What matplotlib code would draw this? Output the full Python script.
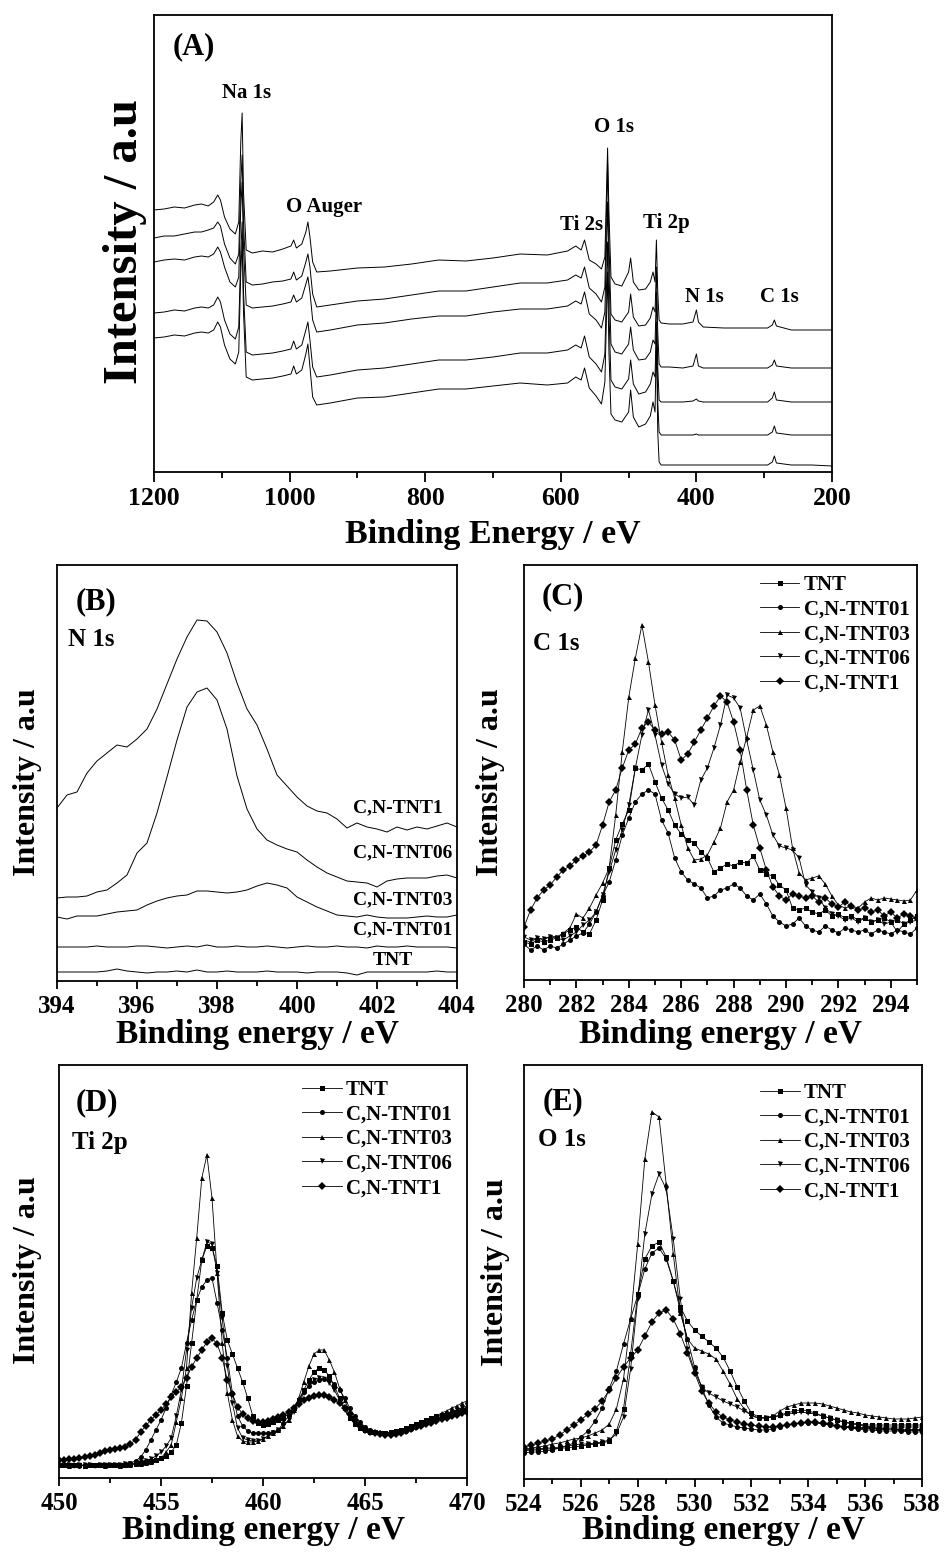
import matplotlib
matplotlib.use("Agg")
import matplotlib.pyplot as plt
from matplotlib.ticker import MultipleLocator

plt.rcParams['font.family'] = ['Liberation Serif', 'DejaVu Serif']
plt.rcParams['font.weight'] = 'bold'

W, H = 947, 1553

samples = ['TNT', 'C,N-TNT01', 'C,N-TNT03', 'C,N-TNT06', 'C,N-TNT1']
markers = ['s', 'o', '^', 'v', 'D']

# ---------------- (A) survey spectra, 5 stacked traces ----------------
survey_be = [1200, 1185, 1170, 1155, 1140, 1130, 1120, 1112, 1106, 1102,
             1096, 1088, 1080, 1075, 1072, 1070, 1068, 1064, 1055, 1040,
             1025, 1010, 998, 994, 990, 982, 976, 973, 970, 966,
             960, 940, 900, 860, 820, 780, 740, 700, 660, 620,
             590, 578, 570, 565, 558, 548, 540, 535, 531, 529,
             526, 520, 510, 500, 497, 493, 485, 475, 468, 464,
             461, 459, 457, 455, 452, 440, 420, 405, 400, 397,
             390, 360, 320, 295, 288, 285, 282, 260, 230, 200]
survey_1 = [262, 263, 265, 264, 267, 268, 266, 270, 277, 272,
            255, 243, 238, 250, 330, 359, 280, 222, 219, 221,
            220, 223, 226, 232, 224, 228, 240, 250, 235, 210,
            200, 201, 204, 205, 208, 212, 211, 214, 218, 217,
            221, 226, 222, 232, 212, 208, 203, 215, 324, 260,
            195, 188, 186, 200, 214, 190, 182, 183, 190, 200,
            190, 232, 180, 152, 149, 148, 148, 150, 162, 150,
            145, 144, 144, 144, 147, 152, 146, 142, 142, 142]
survey_2 = [234, 236, 236, 238, 240, 240, 242, 244, 250, 246,
            228, 214, 208, 218, 290, 317, 250, 190, 187, 188,
            190, 191, 193, 200, 192, 196, 210, 218, 205, 178,
            165, 167, 171, 173, 177, 181, 181, 185, 189, 189,
            192, 197, 194, 205, 184, 178, 170, 185, 310, 230,
            158, 152, 150, 160, 178, 155, 146, 147, 154, 165,
            160, 205, 140, 108, 105, 105, 104, 106, 118, 106,
            104, 104, 104, 104, 107, 112, 106, 104, 104, 104]
survey_3 = [210, 212, 213, 212, 215, 216, 215, 218, 225, 220,
            205, 190, 185, 195, 265, 290, 225, 167, 164, 165,
            166, 168, 170, 177, 170, 174, 188, 195, 180, 152,
            140, 142, 147, 149, 153, 156, 156, 160, 163, 163,
            166, 171, 168, 180, 158, 152, 144, 160, 270, 200,
            128, 120, 118, 128, 145, 122, 112, 113, 120, 132,
            128, 180, 105, 72, 70, 70, 70, 71, 73, 71,
            70, 70, 70, 70, 74, 80, 72, 70, 70, 70]
survey_4 = [159, 160, 162, 161, 164, 165, 164, 167, 175, 170,
            152, 138, 133, 145, 220, 250, 180, 120, 117, 118,
            119, 121, 123, 131, 123, 127, 142, 150, 132, 105,
            95, 97, 102, 104, 108, 112, 112, 115, 119, 119,
            122, 127, 124, 136, 115, 108, 100, 118, 230, 160,
            92, 85, 83, 93, 112, 88, 78, 80, 88, 100,
            95, 150, 70, 40, 37, 37, 37, 37, 38, 37,
            37, 37, 37, 37, 40, 46, 39, 37, 37, 37]
survey_5 = [134, 135, 137, 136, 139, 140, 139, 142, 150, 145,
            127, 113, 108, 120, 200, 230, 160, 95, 92, 93,
            94, 96, 98, 106, 98, 102, 118, 128, 105, 75,
            67, 69, 74, 75, 79, 83, 83, 86, 89, 87,
            89, 95, 92, 104, 84, 76, 68, 90, 200, 120,
            58, 52, 50, 60, 82, 55, 45, 48, 56, 70,
            60, 135, 40, 10, 7, 7, 7, 7, 7, 7,
            7, 7, 7, 7, 10, 16, 9, 7, 7, 6]
survey = [survey_1, survey_2, survey_3, survey_4, survey_5]

# ---------------- (B) N 1s ----------------
n1s_be = [394 + 0.25 * i for i in range(41)]
n1s_tnt = [9, 9, 9, 9, 9, 10, 12, 10, 9, 8,
           9, 9, 10, 9, 11, 9, 9, 10, 9, 9,
           9, 10, 9, 9, 9, 8, 9, 9, 9, 8,
           6, 9, 9, 9, 9, 9, 9, 9, 10, 9, 9]
n1s_01 = [34, 34, 34, 34, 35, 34, 34, 34, 35, 35,
          34, 33, 34, 35, 34, 36, 34, 34, 35, 34,
          34, 35, 34, 33, 34, 35, 34, 34, 35, 34,
          34, 33, 35, 34, 34, 35, 34, 34, 34, 34, 33]
n1s_03 = [64, 62, 65, 65, 65, 67, 69, 70, 71, 76,
          80, 83, 85, 86, 90, 90, 89, 88, 89, 91,
          95, 98, 96, 93, 84, 79, 74, 70, 66, 65,
          64, 66, 64, 63, 63, 63, 64, 65, 64, 64, 66]
n1s_06 = [83, 84, 84, 85, 89, 91, 98, 106, 128, 138,
          168, 204, 241, 274, 289, 293, 281, 252, 205, 172,
          152, 141, 136, 132, 129, 121, 114, 108, 104, 100,
          99, 98, 94, 100, 102, 103, 103, 103, 105, 106, 103]
n1s_1 = [173, 186, 189, 208, 220, 228, 236, 234, 242, 252,
         272, 297, 322, 344, 361, 360, 349, 328, 298, 272,
         256, 232, 206, 195, 184, 175, 170, 168, 162, 153,
         158, 154, 152, 149, 154, 151, 154, 152, 155, 158, 154]
n1s = [n1s_tnt, n1s_01, n1s_03, n1s_06, n1s_1]

# ---------------- (C) C 1s ----------------
c1s_be = [280 + 0.25 * i for i in range(61)]
c1s_tnt = [38, 36, 40, 38, 40, 42, 46, 50, 53, 48,
           46, 60, 80, 112, 140, 156, 170, 212, 210, 216,
           198, 182, 170, 155, 146, 140, 137, 128, 122, 108,
           112, 116, 114, 118, 117, 124, 110, 106, 104, 95,
           90, 72, 70, 72, 68, 66, 70, 64, 66, 62,
           64, 60, 62, 58, 60, 62, 58, 60, 56, 60, 64]
c1s_01 = [36, 30, 34, 30, 34, 32, 36, 40, 44, 47,
          56, 68, 84, 98, 120, 145, 162, 178, 186, 190,
          186, 160, 147, 122, 108, 100, 96, 92, 82, 84,
          90, 92, 96, 92, 84, 80, 86, 76, 64, 58,
          54, 56, 62, 54, 50, 48, 54, 50, 47, 52,
          50, 48, 50, 46, 50, 48, 46, 50, 48, 46, 52]
c1s_03 = [40, 38, 42, 40, 44, 43, 47, 52, 66, 62,
          72, 85, 97, 112, 165, 228, 283, 322, 355, 318,
          275, 238, 205, 182, 155, 132, 120, 121, 125, 138,
          152, 178, 190, 218, 243, 270, 274, 255, 228, 205,
          172, 132, 107, 100, 102, 104, 96, 84, 75, 72,
          74, 72, 78, 82, 80, 82, 81, 80, 79, 80, 90]
c1s_06 = [43, 40, 42, 41, 43, 42, 40, 44, 48, 55,
          60, 68, 85, 108, 130, 150, 175, 212, 245, 270,
          245, 215, 196, 186, 182, 183, 175, 200, 212, 232,
          255, 285, 282, 272, 240, 210, 180, 165, 145, 134,
          132, 130, 122, 95, 88, 82, 72, 66, 64, 60,
          62, 58, 62, 58, 60, 56, 58, 48, 56, 58, 60]
c1s_1 = [53, 70, 82, 90, 95, 103, 110, 114, 120, 124,
         128, 135, 155, 178, 190, 212, 230, 236, 252, 258,
         250, 246, 248, 240, 220, 226, 238, 250, 262, 274,
         284, 278, 258, 230, 190, 155, 132, 110, 93, 84,
         80, 86, 84, 82, 84, 78, 82, 76, 73, 78,
         74, 70, 72, 68, 70, 64, 68, 62, 66, 64, 62]
c1s = [c1s_tnt, c1s_01, c1s_03, c1s_06, c1s_1]

# ---------------- (D) Ti 2p ----------------
ti2p_be = [450 + 0.25 * i for i in range(81)]
ti2p_tnt = [13, 13, 13, 13, 13, 12, 13, 13, 13, 13,
            13, 13, 13, 13, 14, 14, 15, 16, 17, 18,
            20, 22, 26, 33, 55, 92, 135, 178, 218, 232,
            230, 212, 165, 138, 124, 110, 96, 80, 62, 55,
            53, 54, 56, 58, 60, 64, 70, 78, 88, 98,
            106, 110, 108, 102, 92, 80, 70, 60, 54, 50,
            48, 46, 46, 45, 45, 46, 47, 48, 50, 52,
            54, 56, 58, 60, 62, 63, 64, 65, 66, 67, 68]
ti2p_01 = [13, 13, 13, 13, 12, 13, 13, 13, 13, 13,
           13, 13, 13, 14, 15, 17, 21, 28, 38, 48,
           58, 70, 83, 96, 110, 135, 158, 178, 191, 198,
           200, 175, 148, 120, 85, 62, 52, 47, 45, 45,
           45, 45, 46, 48, 55, 62, 70, 78, 86, 92,
           96, 98, 99, 98, 94, 88, 80, 70, 62, 56,
           51, 48, 46, 45, 44, 44, 45, 46, 47, 49,
           51, 53, 55, 57, 59, 61, 63, 65, 67, 69, 70]
ti2p_03 = [13, 13, 12, 13, 13, 12, 13, 13, 13, 12,
           13, 13, 12, 13, 13, 14, 14, 15, 16, 18,
           20, 26, 33, 56, 80, 110, 185, 240, 300, 323,
           280, 205, 135, 85, 58, 42, 37, 36, 36, 37,
           39, 42, 45, 48, 52, 58, 68, 80, 96, 112,
           124, 128, 128, 118, 106, 90, 78, 66, 58, 54,
           51, 48, 46, 46, 45, 45, 46, 47, 49, 51,
           54, 56, 58, 60, 62, 65, 67, 70, 72, 75, 77]
ti2p_06 = [13, 13, 13, 12, 13, 13, 13, 12, 13, 13,
           13, 13, 13, 14, 14, 15, 16, 17, 19, 22,
           26, 32, 40, 62, 88, 128, 170, 200, 218, 236,
           234, 205, 160, 112, 75, 50, 40, 38, 37, 37,
           39, 42, 45, 48, 52, 58, 66, 75, 85, 93,
           98, 100, 99, 95, 88, 78, 68, 60, 54, 50,
           48, 46, 45, 44, 44, 44, 45, 46, 48, 50,
           52, 54, 56, 58, 60, 62, 64, 66, 68, 70, 72]
ti2p_1 = [18, 18, 19, 19, 20, 21, 22, 23, 25, 27,
          28, 29, 30, 31, 34, 38, 46, 52, 58, 63,
          68, 74, 81, 86, 91, 100, 111, 120, 128, 136,
          140, 134, 120, 98, 84, 71, 64, 60, 57, 56,
          56, 57, 59, 61, 63, 66, 70, 74, 78, 80,
          82, 83, 83, 81, 78, 75, 70, 64, 58, 52,
          48, 46, 45, 44, 43, 43, 44, 45, 47, 49,
          51, 52, 54, 55, 57, 59, 60, 62, 63, 65, 66]
ti2p = [ti2p_tnt, ti2p_01, ti2p_03, ti2p_06, ti2p_1]

# ---------------- (E) O 1s ----------------
o1s_be = [524 + 0.25 * i for i in range(57)]
o1s_tnt = [28, 29, 29, 30, 30, 31, 31, 32, 33, 34,
           35, 36, 38, 48, 70, 125, 185, 220, 233, 237,
           222, 198, 172, 158, 149, 143, 137, 131, 122, 108,
           92, 78, 66, 62, 61, 62, 64, 66, 68, 69,
           68, 66, 63, 61, 59, 57, 56, 55, 54, 54,
           54, 54, 54, 54, 54, 54, 54]
o1s_01 = [26, 27, 27, 28, 29, 31, 33, 36, 42, 48,
          58, 71, 91, 108, 135, 160, 184, 210, 226, 231,
          220, 198, 168, 140, 112, 92, 74, 62, 56, 54,
          52, 51, 50, 49, 49, 50, 52, 54, 55, 56,
          56, 56, 55, 54, 53, 52, 51, 50, 49, 49,
          48, 48, 48, 48, 47, 47, 47]
o1s_03 = [30, 31, 32, 33, 35, 36, 38, 40, 41, 43,
          46, 49, 55, 70, 100, 160, 235, 320, 367, 362,
          295, 225, 166, 140, 131, 128, 125, 120, 108, 95,
          80, 70, 63, 61, 61, 63, 68, 72, 74, 76,
          76, 76, 75, 73, 71, 69, 67, 66, 64, 63,
          62, 61, 60, 60, 60, 61, 62]
o1s_06 = [29, 30, 30, 31, 31, 32, 33, 34, 35, 35,
          36, 37, 39, 45, 62, 110, 180, 245, 285, 305,
          290, 240, 180, 130, 108, 92, 86, 82, 78, 75,
          72, 68, 64, 61, 61, 62, 63, 65, 66, 67,
          66, 65, 63, 61, 59, 57, 55, 54, 53, 52,
          52, 52, 52, 52, 52, 52, 52]
o1s_1 = [32, 34, 36, 38, 40, 44, 49, 54, 59, 65,
         70, 78, 89, 101, 112, 121, 129, 143, 157, 166,
         169, 160, 145, 126, 106, 88, 76, 67, 62, 59,
         57, 55, 54, 53, 52, 52, 53, 54, 55, 56,
         57, 57, 56, 55, 53, 52, 52, 51, 51, 51,
         50, 50, 50, 49, 49, 49, 49]
o1s = [o1s_tnt, o1s_01, o1s_03, o1s_06, o1s_1]

fig = plt.figure(figsize=(W / 100, H / 100), dpi=100)


def add_axes(left, top, right, bottom):
    return fig.add_axes([left / W, 1 - bottom / H, (right - left) / W, (bottom - top) / H])


def put(x, y, s, size, ha='center', rot=0):
    fig.text(x / W, 1 - y / H, s, fontsize=size, fontweight='bold',
             ha=ha, va='center', rotation=rot)


def frame(ax, lo, hi, major, minor, top, size=18, tick=6):
    ax.set_xlim(lo, hi)
    ax.set_ylim(0, top)
    ax.set_yticks([])
    ax.xaxis.set_major_locator(MultipleLocator(major))
    ax.xaxis.set_minor_locator(MultipleLocator(minor))
    ax.tick_params(axis='x', which='major', direction='out', length=tick,
                   width=1.3, labelsize=size, pad=4)
    ax.tick_params(axis='x', which='minor', direction='out', length=tick * 0.6, width=1.3)
    for s in ax.spines.values():
        s.set_linewidth(1.3)


def legend(ax, x, y):
    ax.legend(loc='upper left', bbox_to_anchor=(x, y), frameon=False, fontsize=15,
              handlelength=1.9, handletextpad=0.2, labelspacing=0.22,
              borderpad=0, borderaxespad=0, numpoints=1)


# (A)
axA = add_axes(154, 15, 832, 472)
for ys in survey:
    axA.plot(survey_be, ys, color='black', lw=0.7)
frame(axA, 1200, 200, 200, 100, 457, size=18.5, tick=7)

# (B)
axB = add_axes(57, 565, 457, 981)
for ys in n1s:
    axB.plot(n1s_be, ys, color='black', lw=0.7)
frame(axB, 394, 404, 2, 1, 416)

# (C), (D), (E)
axC = add_axes(524, 565, 917, 980)
axD = add_axes(59, 1065, 467, 1478)
axE = add_axes(524, 1065, 922, 1479)
for ax, xs, series in [(axC, c1s_be, c1s), (axD, ti2p_be, ti2p), (axE, o1s_be, o1s)]:
    for name, mk, ys in zip(samples, markers, series):
        ax.plot(xs, ys, color='black', lw=0.6, marker=mk, ms=3.6, mew=0, label=name)
frame(axC, 280, 295, 2, 1, 415)
frame(axD, 450, 470, 5, 2.5, 413)
frame(axE, 524, 538, 2, 1, 414)
legend(axC, 0.60, 0.976)
legend(axD, 0.596, 0.964)
legend(axE, 0.593, 0.957)

# axis titles
put(125, 242, 'Intensity / a.u', 35, rot=90)
put(493, 535, 'Binding Energy / eV', 24.5)
for x, y in [(28, 782), (490, 782), (28, 1270), (495, 1272)]:
    put(x, y, 'Intensity / a.u', 23, rot=90)
for x, y in [(257, 1035), (720, 1035), (263, 1530), (723, 1530)]:
    put(x, y, 'Binding energy / eV', 24)

# panel letters and element tags
for x, y, s in [(194, 47, '(A)'), (96, 602, '(B)'), (563, 597, '(C)'),
                (97, 1103, '(D)'), (563, 1102, '(E)')]:
    put(x, y, s, 22)
for x, y, s in [(68, 640, 'N 1s'), (533, 643, 'C 1s'), (72, 1142, 'Ti 2p'), (538, 1140, 'O 1s')]:
    put(x, y, s, 18, ha='left')

# peak labels in the survey
for x, y, s in [(247, 93, 'Na 1s'), (324, 207, 'O Auger'), (582, 225, 'Ti 2s'),
                (614, 127, 'O 1s'), (666, 223, 'Ti 2p'), (704, 297, 'N 1s'), (779, 297, 'C 1s')]:
    put(x, y, s, 15)

# sample tags in N 1s panel
for y, s in [(808, 'C,N-TNT1'), (853, 'C,N-TNT06'), (900, 'C,N-TNT03'), (930, 'C,N-TNT01')]:
    put(353, y, s, 14, ha='left')
put(393, 960, 'TNT', 14)

fig.savefig('out.png', dpi=100)
